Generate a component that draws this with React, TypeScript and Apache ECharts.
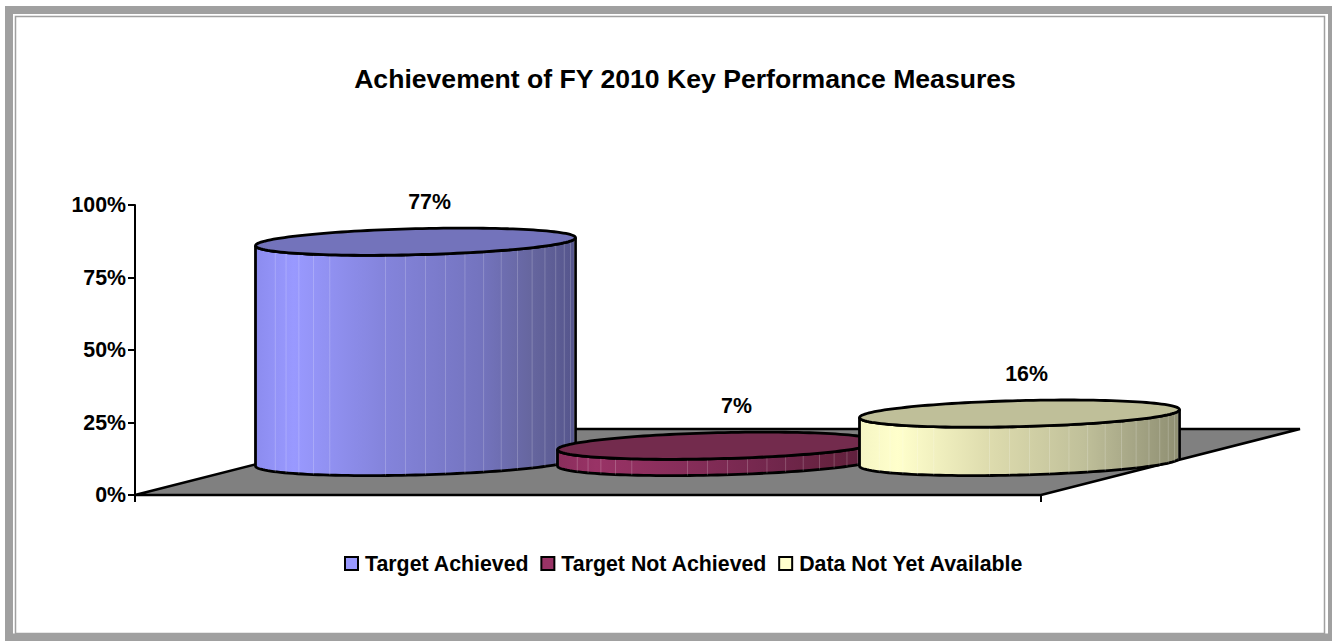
import React, { useEffect, useRef } from "react";
import * as echarts from "echarts";

const TITLE = "Achievement of FY 2010 Key Performance Measures";
const categories = ["Target Achieved", "Target Not Achieved", "Data Not Yet Available"];
const values = [77, 7, 16];
const labels = ["77%", "7%", "16%"];
const yTicks = [0, 25, 50, 75, 100];
const stopOffsets = [0, 0.12, 0.4, 0.7, 0.86, 1];
const sideStops = [
  ["#8c8cef", "#9999ff", "#8484dc", "#7474bf", "#66669f", "#55558c"],
  ["#8a2e5c", "#993366", "#862d59", "#70264b", "#66223f", "#5c1f3d"],
  ["#f5f5c4", "#ffffcc", "#dedcae", "#c0c09a", "#a5a585", "#8f8f72"],
];
const topColors = ["#7373bb", "#732b4d", "#bfbf99"];
const swatchColors = ["#9999ff", "#993366", "#ffffcc"];
const labelShift = [14, 19, 7];
const topNudge = [3, 4, -2];

const DEPTH_X = 259;
const DEPTH_Y = 66;
const RX = 160;
const RY = 13;
const TILT = 4;
const STEPS = 72;
const FACETS = 25;

function ellipsePoint(cx: number, cy: number, t: number) {
  return [cx + RX * Math.cos(t), cy + RY * Math.sin(t) - TILT * Math.cos(t)];
}

function cylinder(i: number) {
  return (_p: any, api: any) => {
    const base = api.coord([api.value(0), 0]);
    const head = api.coord([api.value(0), api.value(1)]);
    const cx = base[0] + DEPTH_X / 2;
    const by = base[1] - DEPTH_Y / 2;
    const ty = head[1] - DEPTH_Y / 2 + topNudge[i];
    const side: number[][] = [];
    for (let k = 0; k <= STEPS; k++) side.push(ellipsePoint(cx, by, Math.PI - (k / STEPS) * Math.PI));
    for (let k = 0; k <= STEPS; k++) side.push(ellipsePoint(cx, ty, (k / STEPS) * Math.PI));
    const top: number[][] = [];
    for (let k = 0; k < STEPS * 2; k++) top.push(ellipsePoint(cx, ty, (k / STEPS) * Math.PI));
    const stops = sideStops[i];
    const fill = {
      type: "linear", x: 0, y: 0, x2: 1, y2: 0,
      colorStops: stops.map((color, n) => ({ offset: stopOffsets[n], color })),
    };
    const facets: any[] = [];
    for (let k = 4; k < FACETS; k++) {
      if (k === 9 || k === 10) continue;
      const t = Math.PI - (k / FACETS) * Math.PI;
      const a = ellipsePoint(cx, ty, t);
      const b = ellipsePoint(cx, by, t);
      facets.push({
        type: "line",
        shape: { x1: a[0], y1: a[1], x2: b[0], y2: b[1] },
        style: { stroke: "rgba(255,255,255,0.2)", lineWidth: 1 },
        silent: true,
      });
    }
    return {
      type: "group",
      children: [
        { type: "polygon", shape: { points: side }, style: { fill, stroke: "#000", lineWidth: 2.8 } },
        ...facets,
        { type: "polygon", shape: { points: top }, style: { fill: topColors[i], stroke: "#000", lineWidth: 2.8 } },
        {
          type: "text",
          x: cx + labelShift[i],
          y: ty - 40,
          style: {
            text: labels[i],
            fill: "#000",
            font: "bold 21.33px 'Liberation Sans', Arial, sans-serif",
            align: "center",
            verticalAlign: "middle",
          },
        },
      ],
    };
  };
}

function floor(_p: any, api: any) {
  const a = api.coord([0, 0]);
  const b = api.coord([3, 0]);
  return {
    type: "polygon",
    shape: {
      points: [a, b, [b[0] + DEPTH_X, b[1] - DEPTH_Y], [a[0] + DEPTH_X, a[1] - DEPTH_Y]],
    },
    style: { fill: "#808080", stroke: "#000", lineWidth: 2.5 },
  };
}

const frameRect = (x: number, y: number, w: number, h: number, lineWidth: number, stroke: string) => ({
  type: "rect",
  shape: { x, y, width: w, height: h },
  style: { fill: "none", stroke, lineWidth },
  silent: true,
  z: -10,
});

export default function App() {
  const ref = useRef<HTMLDivElement>(null);
  useEffect(() => {
    const chart = echarts.init(ref.current!, null, { renderer: "svg" });
    const font = "'Liberation Sans', Arial, sans-serif";
    chart.setOption({
      animation: false,
      backgroundColor: "#fff",
      title: {
        text: TITLE,
        left: 680,
        top: 60,
        textAlign: "center",
        textStyle: { fontFamily: font, fontWeight: "bold", fontSize: 26.6, color: "#000" },
      },
      grid: { left: 135, right: 291, top: 205, bottom: 146 },
      xAxis: {
        type: "value", min: 0, max: 3, interval: 3,
        splitLine: { show: false },
        axisLabel: { show: false },
        axisLine: { show: true, lineStyle: { color: "#000", width: 2 } },
        axisTick: { show: true, length: 7, lineStyle: { color: "#000", width: 2 } },
      },
      yAxis: {
        type: "value", min: yTicks[0], max: yTicks[yTicks.length - 1], interval: yTicks[1] - yTicks[0],
        splitLine: { show: false },
        axisLine: { show: true, lineStyle: { color: "#000", width: 2 } },
        axisTick: { show: true, length: 7, lineStyle: { color: "#000", width: 2 } },
        axisLabel: {
          margin: 9,
          fontFamily: font, fontWeight: "bold", fontSize: 21.33, color: "#000",
          formatter: "{value}%",
        },
      },
      legend: {
        data: categories,
        left: 344,
        top: 553,
        padding: 0,
        itemWidth: 13,
        itemHeight: 13,
        itemGap: 11,
        icon: "rect",
        textStyle: { fontFamily: font, fontWeight: "bold", fontSize: 21.33, color: "#000", padding: [0, 0, 0, 2] },
        selectedMode: false,
      },
      graphic: [
        frameRect(9, 10, 1323, 627.5, 8, "#a0a0a0"),
        frameRect(15.5, 16.5, 1309, 617, 1.5, "#a0a0a0"),
      ],
      series: [
        { type: "custom", name: "floor", clip: false, silent: true, data: [[0, 0]], renderItem: floor, z: 1 },
        ...categories.map((name, i) => ({
          type: "custom",
          name,
          clip: false,
          silent: true,
          z: 2 + i,
          encode: { x: 0, y: 1 },
          data: [[i + 0.5, values[i]]],
          itemStyle: { color: swatchColors[i], borderColor: "#000", borderWidth: 2 },
          renderItem: cylinder(i),
        })),
      ],
    });
    return () => chart.dispose();
  }, []);
  return <div ref={ref} style={{ position: "absolute", left: 0, top: 0, width: 1332, height: 641 }} />;
}
